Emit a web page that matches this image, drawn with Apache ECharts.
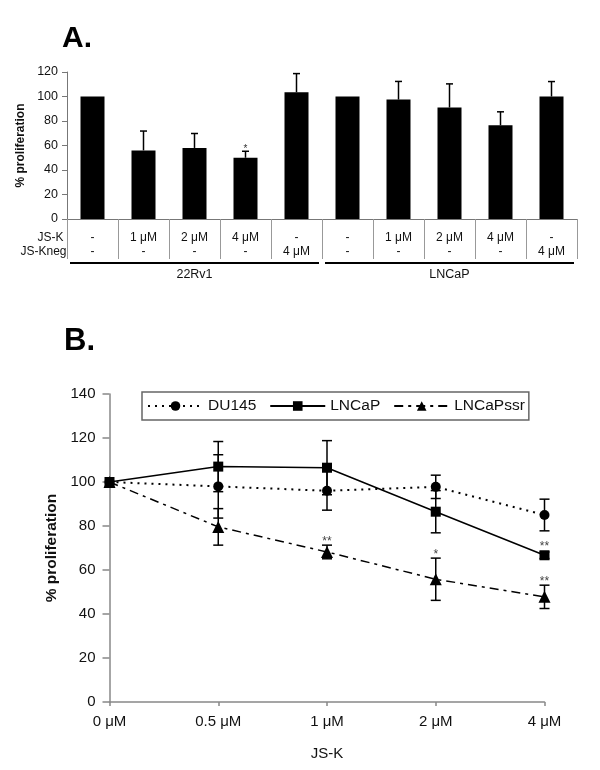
<!DOCTYPE html>
<html><head><meta charset="utf-8">
<script src="https://cdn.jsdelivr.net/npm/echarts@6/dist/echarts.min.js"></script>
<style>html,body{margin:0;padding:0;background:#fff}#c{width:600px;height:770px}</style>
</head><body><div id="c"></div>
<script>
// ---------- Panel A data ----------
const catsA = [0,1,2,3,4,5,6,7,8,9];
const jskRow = ['-','1 μM','2 μM','4 μM','-','-','1 μM','2 μM','4 μM','-'];
const jsknegRow = ['-','-','-','-','4 μM','-','-','-','-','4 μM'];
const valsA = [100, 56, 58, 50, 103.5, 100, 97.5, 91, 76.5, 100];
const errA = [0, 15.8, 11.8, 5.3, 15.2, 0, 14.8, 19.3, 11, 12.2];
const sigA = ['', '', '', '*', '', '', '', '', '', ''];
const groupNames = ['22Rv1', 'LNCaP'];
const groupStart = [0, 5];
const groupEnd = [4, 9];
const ticksA = [0, 20, 40, 60, 80, 100, 120];

// ---------- Panel B data ----------
const catsB = ['0 μM', '0.5 μM', '1 μM', '2 μM', '4 μM'];
const du145 = [100, 98, 96, 97.8, 85];
const du145Err = [0, 14.4, 8.8, 5.3, 7.2];
const du145Sig = ['', '', '', '', ''];
const lncap = [100, 107, 106.5, 86.5, 66.7];
const lncapErr = [0, 11.4, 12.3, 9.6, 1.5];
const lncapSig = ['', '', '', '', '**'];
const ssr = [100, 79.6, 68.2, 55.8, 47.8];
const ssrErr = [0, 8.3, 3.1, 9.6, 5.3];
const ssrSig = ['', '', '**', '*', '**'];
const ticksB = [0, 20, 40, 60, 80, 100, 120, 140];

const FONT = '"Liberation Sans", Arial, sans-serif';
const chart = echarts.init(document.getElementById('c'), null, {renderer: 'canvas'});

function errARender(p, api) {
  const x = api.value(0), v = api.value(1), e = api.value(2);
  const children = [];
  const base = api.coord([x, v]);
  const top = api.coord([x, v + e]);
  if (e > 0) {
    children.push({type: 'line', shape: {x1: base[0], y1: base[1], x2: top[0], y2: top[1]}, style: {stroke: '#000', lineWidth: 1.5}});
    children.push({type: 'line', shape: {x1: top[0] - 3.5, y1: top[1], x2: top[0] + 3.5, y2: top[1]}, style: {stroke: '#000', lineWidth: 1.5}});
  }
  const s = sigA[p.dataIndex];
  if (s) {
    children.push({type: 'text', x: top[0], y: top[1] - 2, style: {text: s, font: '10px ' + FONT, fill: '#333', align: 'center', verticalAlign: 'middle'}});
  }
  return {type: 'group', children};
}

function groupRender(p, api) {
  const a = api.coord([api.value(0), 0]);
  const b = api.coord([api.value(2), 0]);
  const bw = api.size([1, 0])[0];
  const x0 = a[0] - bw / 2 + 3, x1 = b[0] + bw / 2 - 3;
  const y = a[1] + 44;
  return {type: 'group', children: [
    {type: 'line', shape: {x1: x0, y1: y, x2: x1, y2: y}, style: {stroke: '#000', lineWidth: 2}},
    {type: 'text', x: (x0 + x1) / 2, y: y + 12, style: {text: groupNames[p.dataIndex], font: '12.5px ' + FONT, fill: '#111', align: 'center', verticalAlign: 'middle'}}
  ]};
}

function makeErrB(vals, errs, sig) {
  return {
    type: 'custom', xAxisIndex: 1, yAxisIndex: 1, z: 1,
    data: vals.map((v, i) => [i, v, errs[i]]),
    encode: {x: 0, y: 1},
    renderItem: function (p, api) {
      const x = api.value(0), v = api.value(1), e = api.value(2);
      const children = [];
      const top = api.coord([x, v + e]);
      const bot = api.coord([x, v - e]);
      if (e > 0) {
        children.push({type: 'line', shape: {x1: top[0], y1: top[1], x2: bot[0], y2: bot[1]}, style: {stroke: '#000', lineWidth: 1.5}});
        children.push({type: 'line', shape: {x1: top[0] - 5, y1: top[1], x2: top[0] + 5, y2: top[1]}, style: {stroke: '#000', lineWidth: 1.5}});
        children.push({type: 'line', shape: {x1: bot[0] - 5, y1: bot[1], x2: bot[0] + 5, y2: bot[1]}, style: {stroke: '#000', lineWidth: 1.5}});
      }
      const s = sig[p.dataIndex];
      if (s) {
        const yy = Math.min(top[1], api.coord([x, v])[1] - 5);
        children.push({type: 'text', x: top[0], y: yy - 3.5, style: {text: s, font: '12px ' + FONT, fill: '#444', align: 'center', verticalAlign: 'middle'}});
      }
      return {type: 'group', children};
    }
  };
}

const option = {
  animation: false,
  backgroundColor: '#fff',
  textStyle: {fontFamily: FONT},
  graphic: [
    {type: 'text', x: 62, y: 39, style: {text: 'A.', font: 'bold 30px ' + FONT, fill: '#000', verticalAlign: 'middle'}},
    {type: 'text', x: 64, y: 341, style: {text: 'B.', font: 'bold 31px ' + FONT, fill: '#000', verticalAlign: 'middle'}},
    {type: 'text', x: 63.5, y: 238, style: {text: 'JS-K', font: '12px ' + FONT, fill: '#111', align: 'right', verticalAlign: 'middle'}},
    {type: 'text', x: 66.5, y: 252, style: {text: 'JS-Kneg', font: '12px ' + FONT, fill: '#111', align: 'right', verticalAlign: 'middle'}}
  ],
  legend: {
    data: ['DU145', 'LNCaP', 'LNCaPssr'],
    left: 142, top: 392,
    itemWidth: 55, itemHeight: 12, itemGap: 13,
    padding: [6, 4, 6, 5],
    borderColor: '#666', borderWidth: 1.5,
    selectedMode: false,
    textStyle: {fontSize: 15.5, color: '#111', fontFamily: FONT}
  },
  grid: [
    {left: 67, top: 72, width: 510, height: 147},
    {left: 109.5, top: 394, width: 435, height: 308}
  ],
  xAxis: [
    {
      type: 'category', gridIndex: 0, data: catsA, boundaryGap: true,
      axisLine: {lineStyle: {color: '#777', width: 1}},
      axisTick: {show: true, length: 40, lineStyle: {color: '#999', width: 1}},
      axisLabel: {
        interval: 0, margin: 12, fontSize: 12, lineHeight: 14, color: '#111',
        formatter: (v, i) => jskRow[i] + '\n' + jsknegRow[i]
      }
    },
    {
      type: 'category', gridIndex: 1, data: catsB, boundaryGap: false,
      axisLine: {lineStyle: {color: '#888', width: 1.5}},
      axisTick: {show: true, length: 4, alignWithLabel: true, lineStyle: {color: '#888', width: 1.5}},
      axisLabel: {margin: 12, fontSize: 15, color: '#111'},
      name: 'JS-K', nameLocation: 'middle', nameGap: 44,
      nameTextStyle: {fontSize: 15, color: '#111'}
    }
  ],
  yAxis: [
    {
      type: 'value', gridIndex: 0, min: 0, max: 120, interval: 20,
      axisLine: {show: true, lineStyle: {color: '#777', width: 1}},
      axisTick: {show: true, length: 5, lineStyle: {color: '#777'}},
      splitLine: {show: false},
      axisLabel: {fontSize: 12.5, color: '#111', margin: 9, formatter: v => ticksA.includes(v) ? String(v) : ''},
      name: '% proliferation', nameLocation: 'middle', nameGap: 39,
      nameTextStyle: {fontSize: 12, fontWeight: 'bold', color: '#111'}
    },
    {
      type: 'value', gridIndex: 1, min: 0, max: 140, interval: 20,
      axisLine: {show: true, lineStyle: {color: '#888', width: 1.5}},
      axisTick: {show: true, length: 7, lineStyle: {color: '#888', width: 1.5}},
      splitLine: {show: false},
      axisLabel: {fontSize: 15, color: '#111', margin: 14, formatter: v => ticksB.includes(v) ? String(v) : ''},
      name: '% proliferation', nameLocation: 'middle', nameGap: 49,
      nameTextStyle: {fontSize: 15.5, fontWeight: 'bold', color: '#111'}
    }
  ],
  series: [
    {type: 'bar', xAxisIndex: 0, yAxisIndex: 0, data: valsA, barWidth: 24, itemStyle: {color: '#000'}},
    {type: 'custom', xAxisIndex: 0, yAxisIndex: 0, data: valsA.map((v, i) => [i, v, errA[i]]), encode: {x: 0, y: 1}, renderItem: errARender, z: 3},
    {type: 'custom', xAxisIndex: 0, yAxisIndex: 0, clip: false, data: groupNames.map((g, i) => [groupStart[i], 0, groupEnd[i]]), encode: {x: 0, y: 1}, renderItem: groupRender},
    makeErrB(du145, du145Err, du145Sig),
    makeErrB(lncap, lncapErr, lncapSig),
    makeErrB(ssr, ssrErr, ssrSig),
    {name: 'DU145', type: 'line', xAxisIndex: 1, yAxisIndex: 1, data: du145, symbol: 'circle', symbolSize: 10,
      lineStyle: {color: '#000', width: 2, type: [2, 5]}, itemStyle: {color: '#000'}, z: 4},
    {name: 'LNCaP', type: 'line', xAxisIndex: 1, yAxisIndex: 1, data: lncap, symbol: 'rect', symbolSize: 10,
      lineStyle: {color: '#000', width: 1.5, type: 'solid'}, itemStyle: {color: '#000'}, z: 4},
    {name: 'LNCaPssr', type: 'line', xAxisIndex: 1, yAxisIndex: 1, data: ssr, symbol: 'triangle', symbolSize: 12,
      lineStyle: {color: '#000', width: 1.5, type: [9, 5, 3, 5]}, itemStyle: {color: '#000'}, z: 4}
  ]
};
chart.setOption(option);
</script>
</body></html>
